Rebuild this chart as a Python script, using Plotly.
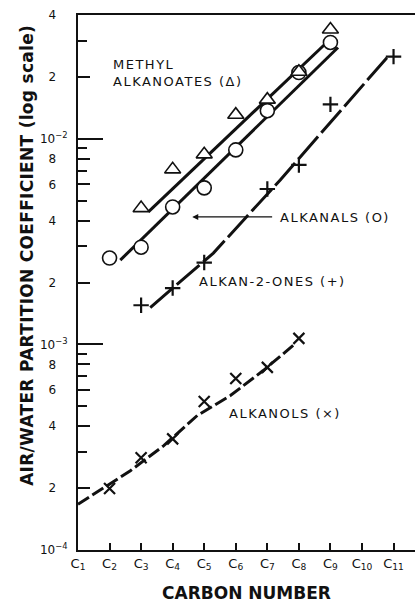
import numpy as np
import plotly.graph_objects as go

# ---- data ----
carbon = [1, 2, 3, 4, 5, 6, 7, 8, 9, 10, 11]
carbon_labels = ["C<sub>%d</sub>" % c for c in carbon]

methyl_x = [3, 4, 5, 6, 7, 8, 9]
methyl_y = [4.6e-3, 7.1e-3, 8.4e-3, 1.31e-2, 1.55e-2, 2.12e-2, 3.4e-2]
methyl_line_x = [3.23, 9.05]
methyl_line_y = [4.41e-3, 3.11e-2]

alkanal_x = [2, 3, 4, 5, 6, 7, 8, 9]
alkanal_y = [2.63e-3, 2.97e-3, 4.66e-3, 5.77e-3, 8.83e-3, 1.37e-2, 2.1e-2, 2.94e-2]
alkanal_line_x = [2.34, 9.24]
alkanal_line_y = [2.57e-3, 2.78e-2]

ketone_x = [3, 4, 5, 7, 8, 9, 11]
ketone_y = [1.55e-3, 1.88e-3, 2.5e-3, 5.7e-3, 7.46e-3, 1.47e-2, 2.51e-2]
ketone_line_x = [3.29, 5.29, 7.41, 10.79]
ketone_line_y = [1.51e-3, 2.78e-3, 6.31e-3, 2.48e-2]

alkanol_x = [2, 3, 4, 5, 6, 7, 8]
alkanol_y = [1.99e-4, 2.81e-4, 3.47e-4, 5.27e-4, 6.82e-4, 7.73e-4, 1.07e-3]
alkanol_line_x = [1.0, 2.66, 3.71, 4.78, 5.83, 6.87, 7.82]
alkanol_line_y = [1.67e-4, 2.43e-4, 3.21e-4, 4.51e-4, 5.64e-4, 7.46e-4, 9.89e-4]

y_tick_vals = [1e-4, 2e-4, 4e-4, 6e-4, 8e-4,
               1e-3, 2e-3, 4e-3, 6e-3, 8e-3,
               1e-2, 2e-2, 4e-2]
pad = "\u00a0\u00a0\u00a0"
y_tick_text = ["10<sup>\u22124</sup>", "2" + pad, "4" + pad, "6" + pad, "8" + pad,
               "10<sup>\u22123</sup>", "2" + pad, "4" + pad, "6" + pad, "8" + pad,
               "10<sup>\u22122</sup>", "2" + pad, "4" + pad]
y_minor_vals = [3e-4, 5e-4, 7e-4, 9e-4, 3e-3, 5e-3, 7e-3, 9e-3, 3e-2]
y_decades = [1e-4, 1e-3, 1e-2]

FONT = "DejaVu Sans"
BLACK = "#111111"

fig = go.Figure()

line_style = dict(color=BLACK, width=3)

# fitted lines
fig.add_trace(go.Scatter(x=methyl_line_x, y=methyl_line_y, mode="lines",
                         line=line_style, hoverinfo="skip"))
fig.add_trace(go.Scatter(x=alkanal_line_x, y=alkanal_line_y, mode="lines",
                         line=line_style, hoverinfo="skip"))
fig.add_trace(go.Scatter(x=ketone_line_x, y=ketone_line_y, mode="lines",
                         line=dict(color=BLACK, width=3, dash="30px,5px"),
                         hoverinfo="skip"))
fig.add_trace(go.Scatter(x=alkanol_line_x, y=alkanol_line_y, mode="lines",
                         line=dict(color=BLACK, width=3, dash="13px,4px"),
                         hoverinfo="skip"))

# markers
fig.add_trace(go.Scatter(x=alkanal_x, y=alkanal_y, mode="markers",
                         marker=dict(symbol="circle", size=14, color="white",
                                     line=dict(color=BLACK, width=1.6))))
fig.add_trace(go.Scatter(x=methyl_x, y=methyl_y, mode="markers",
                         marker=dict(symbol="triangle-up", size=14, color="white",
                                     line=dict(color=BLACK, width=1.6))))
fig.add_trace(go.Scatter(x=ketone_x, y=ketone_y, mode="markers",
                         marker=dict(symbol="cross-thin-open", size=11, color=BLACK,
                                     line=dict(color=BLACK, width=2.2))))
fig.add_trace(go.Scatter(x=alkanol_x, y=alkanol_y, mode="markers",
                         marker=dict(symbol="x-thin-open", size=11, color=BLACK,
                                     line=dict(color=BLACK, width=2.2))))

# overlay axis for long decade ticks
fig.add_trace(go.Scatter(x=[], y=[], xaxis="x", yaxis="y2", showlegend=False))

ls = "letter-spacing:1.5px"
def lab(t):
    return '<span style="%s">%s</span>' % (ls, t)

ann_font = dict(family=FONT, size=13, color=BLACK)
annotations = [
    dict(x=2.03, y=-1.639, text=lab("METHYL"), xanchor="left", yanchor="middle",
         showarrow=False, font=ann_font),
    dict(x=2.03, y=-1.722, text=lab("ALKANOATES (\u0394)"), xanchor="left",
         yanchor="middle", showarrow=False, font=ann_font),
    dict(x=7.34, y=-2.385, text=lab("ALKANALS (O)"), xanchor="left",
         yanchor="middle", showarrow=False, font=ann_font),
    dict(x=4.62, y=-2.38, ax=7.2, ay=-2.38, axref="x", ayref="y",
         text="", showarrow=True, arrowhead=2, arrowsize=1, arrowwidth=1.2,
         arrowcolor=BLACK, standoff=0),
    dict(x=4.78, y=-2.693, text=lab("ALKAN-2-ONES (+)"), xanchor="left",
         yanchor="middle", showarrow=False, font=ann_font),
    dict(x=5.73, y=-3.337, text=lab("ALKANOLS (\u00d7)"), xanchor="left",
         yanchor="middle", showarrow=False, font=ann_font),
    dict(x=-0.151, y=0.55, xref="paper", yref="paper", textangle=-90,
         text='<span style="letter-spacing:0.3px"><b>AIR/WATER PARTITION COEFFICIENT (log scale)</b></span>',
         showarrow=False, xanchor="center", yanchor="middle",
         font=dict(family=FONT, size=17, color=BLACK)),
    dict(x=0.5, y=-0.08, xref="paper", yref="paper",
         text='<b>CARBON NUMBER</b>',
         showarrow=False, xanchor="center", yanchor="middle",
         font=dict(family=FONT, size=17, color=BLACK)),
]

fig.update_layout(
    width=415, height=603,
    margin=dict(l=78, r=0, t=15, b=53),
    paper_bgcolor="white", plot_bgcolor="white",
    showlegend=False,
    font=dict(family=FONT, color=BLACK),
    annotations=annotations,
    xaxis=dict(range=[1, 11.68], showgrid=False, zeroline=False,
               showline=True, linecolor=BLACK, linewidth=2, mirror=True,
               ticks="inside", ticklen=7, tickwidth=1.5, tickcolor=BLACK,
               tickvals=carbon, ticktext=carbon_labels,
               tickfont=dict(family=FONT, size=13, color=BLACK)),
    yaxis=dict(type="log", range=[-4, np.log10(0.04)], showgrid=False,
               zeroline=False, showline=True, linecolor=BLACK, linewidth=2,
               ticks="inside", ticklen=12, tickwidth=1.5, tickcolor=BLACK,
               tickvals=y_tick_vals, ticktext=y_tick_text,
               tickfont=dict(family=FONT, size=12, color=BLACK),
               ticklabelstandoff=6,
               minor=dict(tickvals=y_minor_vals, ticks="inside", ticklen=9,
                          tickwidth=1.5, tickcolor=BLACK)),
    yaxis2=dict(type="log", range=[-4, np.log10(0.04)], overlaying="y",
                side="left", showgrid=False, zeroline=False, showline=False,
                ticks="inside", ticklen=25, tickwidth=1.5, tickcolor=BLACK,
                tickvals=y_decades, showticklabels=False),
)

fig.write_html("out.html",
               config={"displayModeBar": False},
               post_script="document.body.style.margin='0';document.body.style.padding='0';")
